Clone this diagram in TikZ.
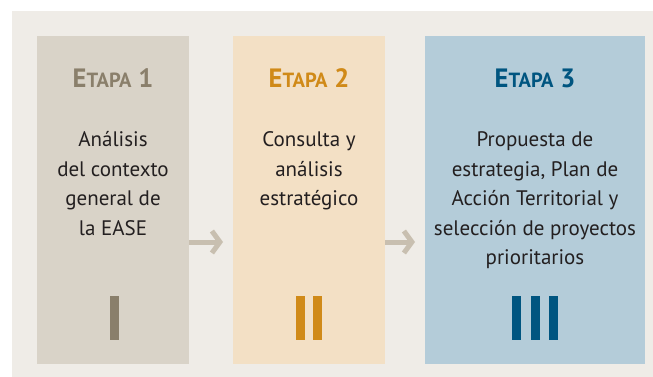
\documentclass[tikz,border=0pt]{standalone}
\usepackage{fontspec}
\setmainfont{PT Sans}
\usetikzlibrary{arrows.meta}
\definecolor{pagebg}{HTML}{EFECE7}
\definecolor{boxA}{HTML}{D9D3C8}
\definecolor{boxB}{HTML}{F3E0C5}
\definecolor{boxC}{HTML}{B4CCD9}
\definecolor{titA}{HTML}{8A7F6B}
\definecolor{titB}{HTML}{D08A18}
\definecolor{titC}{HTML}{005580}
\definecolor{arr}{HTML}{C8BFB0}
\definecolor{txt}{HTML}{231F20}
\newcommand{\etapa}[1]{{\fontsize{26.5}{26}\selectfont\bfseries E{\fontsize{20.5}{21}\selectfont TAPA} #1}}
\tikzset{
  stagebox/.style={draw=none, inner sep=0pt, anchor=north west},
  stagetitle/.style={inner sep=0pt, anchor=base},
  stagetext/.style={inner sep=0pt, anchor=base, align=center, text=txt,
    font=\fontsize{21}{29.5}\selectfont},
  flow/.style={draw=arr, line width=5pt, shorten >=10pt,
    -{Straight Barb[length=8pt, width=22pt, line width=5pt]}},
  bar/.style={inner sep=0pt, minimum width=9pt, minimum height=44pt, anchor=north west}
}
\begin{document}
\begin{tikzpicture}[x=1pt, y=-1pt]
\useasboundingbox (0,0) rectangle (653,377);
\fill[white] (0,0) rectangle (653,377);
\fill[pagebg] (12,11) rectangle (653,377);
% boxes
\node[stagebox, fill=boxA, minimum width=152pt, minimum height=328pt] (b1) at (37,36) {};
\node[stagebox, fill=boxB, minimum width=152pt, minimum height=328pt] (b2) at (233,36) {};
\node[stagebox, fill=boxC, minimum width=220pt, minimum height=328pt] (b3) at (425,36) {};
% titles
\node[stagetitle, text=titA] (t1) at (113,88) {\etapa{1}};
\node[stagetitle, text=titB] (t2) at (309,88) {\etapa{2}};
\node[stagetitle, text=titC] (t3) at (535,88) {\etapa{3}};
% texts (base anchor = baseline of last line)
\node[stagetext] (x1) at (113,235) {Análisis\\del contexto\\general de\\la EASE};
\node[stagetext] (x2) at (309,205.5) {Consulta y\\análisis\\estratégico};
\node[stagetext] (x3) at (535,264.5) {Propuesta de\\estrategia, Plan de\\Acción Territorial y\\selección de proyectos\\prioritarios};
% bars
\node[bar, fill=titA] (r1) at (110,296) {};
\node[bar, fill=titB] (r2a) at (296,296) {};
\node[bar, fill=titB] (r2b) at (313,296) {};
\node[bar, fill=titC] (r3a) at (512,296) {};
\node[bar, fill=titC] (r3b) at (531,296) {};
\node[bar, fill=titC] (r3c) at (549,296) {};
% arrows
\coordinate (a1s) at (b1.east |- 0,242);
\coordinate (a1e) at (b2.west |- 0,242);
\coordinate (a2s) at (b2.east |- 0,242);
\coordinate (a2e) at (b3.west |- 0,242);
\draw[flow] (a1s) -- (a1e);
\draw[flow] (a2s) -- (a2e);
\end{tikzpicture}
\end{document}
